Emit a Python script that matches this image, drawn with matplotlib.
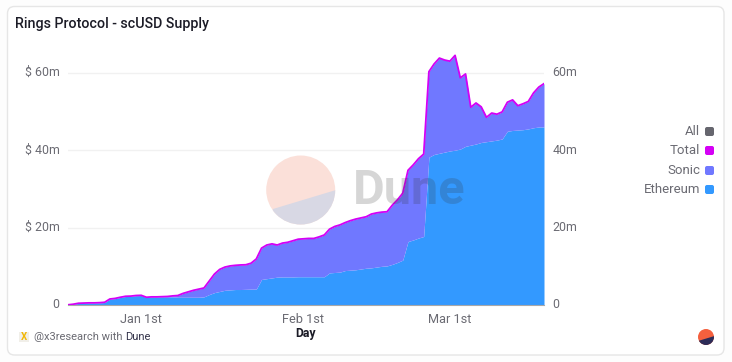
import matplotlib
matplotlib.use('Agg')
import matplotlib.pyplot as plt
import matplotlib.dates as mdates
from matplotlib.patches import Circle, FancyBboxPatch, Polygon, Rectangle
from matplotlib.transforms import ScaledTranslation
import pandas as pd

W, H = 732, 362

plt.rcParams['font.family'] = ['Roboto', 'DejaVu Sans']

days = pd.date_range('2024-12-18', periods=92, freq='D')

# values in $ millions, one per day
total = [0.05, 0.2, 0.45, 0.5, 0.55, 0.55, 0.6, 0.7, 1.55, 1.7,
         2.0, 2.25, 2.3, 2.45, 2.5, 2.0, 2.1, 2.1, 2.15, 2.2,
         2.35, 2.45, 3.0, 3.4, 3.8, 4.1, 4.4, 6.2, 8.0, 9.2,
         9.8, 10.1, 10.25, 10.35, 10.4, 10.8, 11.9, 14.7, 15.5, 15.8,
         15.5, 16.0, 16.2, 16.6, 17.0, 17.1, 17.2, 17.2, 17.6, 18.1,
         19.6, 20.3, 20.7, 21.3, 21.8, 22.2, 22.5, 22.8, 23.5, 23.8,
         24.0, 24.1, 25.8, 27.2, 28.9, 34.8, 36.2, 37.8, 39.0, 60.3,
         62.3, 63.8, 63.3, 63.0, 64.5, 58.7, 59.7, 51.1, 52.2, 51.2,
         48.5, 49.6, 49.3, 49.9, 52.4, 53.0, 51.5, 52.0, 52.6, 54.8,
         56.3, 57.2]
ethereum = [0.05, 0.2, 0.4, 0.45, 0.5, 0.5, 0.55, 0.65, 1.5, 1.65,
            1.95, 2.2, 2.25, 2.4, 2.45, 1.95, 2.05, 2.05, 2.1, 2.1,
            2.1, 2.0, 2.0, 2.0, 2.0, 2.0, 2.1, 2.7, 3.2, 3.5,
            3.8, 3.9, 4.0, 4.0, 4.05, 4.1, 4.1, 6.6, 6.8, 7.0,
            7.2, 7.25, 7.25, 7.25, 7.3, 7.3, 7.3, 7.3, 7.3, 7.3,
            8.3, 8.4, 8.5, 8.9, 9.0, 9.1, 9.3, 9.5, 9.6, 9.8,
            10.0, 10.1, 10.5, 11.0, 11.6, 16.4, 16.8, 17.3, 17.7, 38.2,
            38.9, 39.2, 39.5, 39.8, 40.0, 40.3, 41.0, 41.3, 41.6, 42.0,
            42.2, 42.4, 42.6, 42.9, 44.9, 45.1, 45.2, 45.3, 45.5, 45.8,
            46.0, 46.0]

left_ticks = [0, 20, 40, 60]
left_labels = ['0', '$ 20m', '$ 40m', '$ 60m']
right_labels = ['0', '20m', '40m', '60m']
x_ticks = ['2025-01-01', '2025-02-01', '2025-03-01']
x_labels = ['Jan 1st', 'Feb 1st', 'Mar 1st']
legend_names = ['All', 'Total', 'Sonic', 'Ethereum']
legend_colors = ['#66666e', '#d400f5', '#7078ff', '#3399ff']
legend_rows = [131.5, 150.5, 170.5, 189.5]

TEXT = '#6b6b73'

fig = plt.figure(figsize=(W / 100, H / 100), dpi=100, facecolor='#fdfdfd')

# card behind everything
bg = fig.add_axes([0, 0, 1, 1], zorder=0)
bg.set_xlim(0, W)
bg.set_ylim(H, 0)
bg.axis('off')
bg.add_patch(FancyBboxPatch((7.5, 6.5), 716.5, 348.5, boxstyle='round,pad=0,rounding_size=7',
                            fc='white', ec='#e6e6e6', lw=1))

# the chart, 0 sits at y=305 and 3.87 px per million
ax = fig.add_axes([68 / W, (H - 305) / H, 476 / W, 3.87 * 70 / H], zorder=1)
ax.patch.set_alpha(0)
ax.fill_between(days, 0, ethereum, color='#3399ff', lw=0, zorder=2)
ax.fill_between(days, ethereum, total, color='#7078ff', lw=0, zorder=2)
ax.plot(days, total, color='#d400f5', lw=1.3, zorder=3, solid_joinstyle='round')

ax.set_xlim(days[0], days[-1])
ax.set_ylim(0, 70)
ax.set_yticks(left_ticks)
ax.set_yticklabels(left_labels)
ax.set_xticks(mdates.date2num(pd.to_datetime(x_ticks)))
ax.set_xticklabels(x_labels)
ax.tick_params(length=0, labelsize=9.2, labelcolor=TEXT)
ax.tick_params(axis='x', pad=6)
ax.tick_params(axis='y', labelsize=8.9, pad=6)
ax.grid(axis='y', color='#f1f1f1', lw=1)
ax.set_axisbelow(True)
for s in ['top', 'left', 'right']:
    ax.spines[s].set_visible(False)
ax.spines['bottom'].set_color('#a8a8a8')
ax.spines['bottom'].set_linewidth(0.8)

ax2 = ax.twinx()
ax2.set_ylim(0, 70)
ax2.set_yticks(left_ticks)
ax2.set_yticklabels(right_labels)
ax2.tick_params(length=0, labelsize=8.9, labelcolor=TEXT, pad=6)
for s in ax2.spines.values():
    s.set_visible(False)

# y labels sit a bit above their gridline in the reference
nudge = ScaledTranslation(0, 1.5 / 100, fig.dpi_scale_trans)
for lab in ax.get_yticklabels() + ax2.get_yticklabels():
    lab.set_transform(lab.get_transform() + nudge)

# everything placed in pixels goes on this one
top = fig.add_axes([0, 0, 1, 1], zorder=5)
top.set_xlim(0, W)
top.set_ylim(H, 0)
top.axis('off')
top.patch.set_alpha(0)

top.text(15, 24, 'Rings Protocol - scUSD Supply', fontsize=10.3, fontweight='medium',
         color='#1b1b26', va='center', ha='left')
top.text(306, 334, 'Day', fontsize=8.8, fontweight='bold', color='#1b1b26', va='center', ha='center')

# legend
for name, col, y in zip(legend_names, legend_colors, legend_rows):
    top.text(700, y, name, fontsize=9.5, color=TEXT, va='center', ha='right')
    top.add_patch(FancyBboxPatch((705, y - 4.5), 9, 9, boxstyle='round,pad=0,rounding_size=2', fc=col, ec='none'))

# dune watermark
c1 = Circle((300.7, 190), 34.5, fc='#fbe0d9', ec='none', zorder=1)
top.add_patch(c1)
p1 = Polygon([(273, 209), (336, 190), (336, 230), (260, 230)], fc='#d8d8e4', ec='none', zorder=2)
top.add_patch(p1)
p1.set_clip_path(c1)
top.text(353, 191, 'Dune', fontsize=35, fontweight='bold', color='#333333', alpha=0.2,
         va='center', ha='left')

# small logo bottom right
c2 = Circle((706, 337), 8, fc='#f4603e', ec='none', zorder=1)
top.add_patch(c2)
p2 = Polygon([(698, 341), (714.5, 336), (714.5, 346), (698, 346)], fc='#2c2c58', ec='none', zorder=2)
top.add_patch(p2)
p2.set_clip_path(c2)

# credit line
top.add_patch(Rectangle((19, 332), 10, 10, fc='#f1efe9', ec='none'))
top.text(24, 337, 'X', fontsize=7, fontweight='bold', color='#f2b705', va='center', ha='center')
top.text(34, 337, '@x3research with', fontsize=8, color=TEXT, va='center', ha='left')
top.text(151, 337, 'Dune', fontsize=8, color='#33334a', va='center', ha='right')

fig.savefig('out.png', dpi=100, facecolor=fig.get_facecolor())
